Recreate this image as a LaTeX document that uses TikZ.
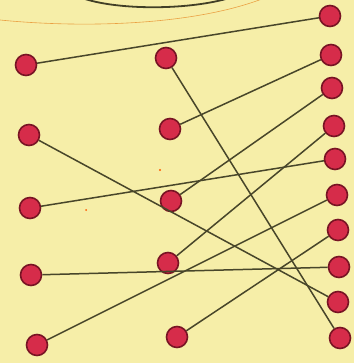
\documentclass[tikz,border=0pt]{standalone}
\definecolor{paper}{RGB}{246,238,168}
\definecolor{dotred}{RGB}{214,44,74}
\definecolor{dotrim}{RGB}{120,20,36}
\definecolor{ink}{RGB}{72,70,42}
\tikzset{
  pin/.style={circle,fill=dotred,draw=dotrim,line width=1.6pt,minimum size=21pt,inner sep=0pt},
  wire/.style={draw=ink,line width=1.5pt},
}
\begin{document}
\begin{tikzpicture}[x=1pt,y=-1pt]
\fill[paper] (0,0) rectangle (354,363);
\useasboundingbox (0,0) rectangle (354,363);
% top decorations
\draw[ink!90!black,line width=1.8pt] (85,-1) .. controls (120,10) and (185,10) .. (226,-1);
\draw[orange!60!brown,line width=0.6pt,opacity=0.7] (0,20) .. controls (80,28) and (190,26) .. (262,-1);
% left column
\node[pin] (L1) at (26,65) {};
\node[pin] (L2) at (29,135) {};
\node[pin] (L3) at (30,208) {};
\node[pin] (L4) at (31,275) {};
\node[pin] (L5) at (37,345) {};
% middle column
\node[pin] (M1) at (166,58) {};
\node[pin] (M2) at (170,129) {};
\node[pin] (M3) at (171,201) {};
\node[pin] (M4) at (168,263) {};
\node[pin] (M5) at (177,337) {};
% right column
\node[pin] (R1) at (330,16) {};
\node[pin] (R2) at (331,55) {};
\node[pin] (R3) at (332,88) {};
\node[pin] (R4) at (334,126) {};
\node[pin] (R5) at (335,159) {};
\node[pin] (R6) at (337,195) {};
\node[pin] (R7) at (338,230) {};
\node[pin] (R8) at (339,267) {};
\node[pin] (R9) at (338,302) {};
\node[pin] (R10) at (340,338) {};
% connectors
\path[wire] (L1) -- (R1);
\path[wire] (M1) -- (R10);
\path[wire] (R2) -- (M2);
\path[wire] (R3) -- (M3);
\path[wire] (R4) -- (M4);
\path[wire] (L2) -- (R9);
\path[wire] (L3) -- (R5);
\path[wire] (L4) -- (R8);
\path[wire] (L5) -- (R6);
\path[wire] (M5) -- (R7);
% specks
\fill[orange!70!red] (160,170) circle (1.2);
\fill[orange!70!red] (86,210) circle (1);
\end{tikzpicture}
\end{document}
